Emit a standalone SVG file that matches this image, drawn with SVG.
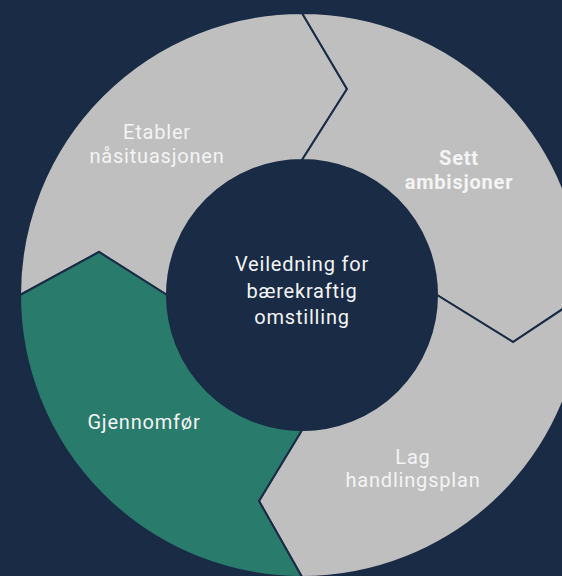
<svg xmlns="http://www.w3.org/2000/svg" width="562" height="576" viewBox="0 0 562 576">
  <style>
    .seg { stroke: #192b45; stroke-width: 2; stroke-linejoin: miter; }
    .grey { fill: #bfbfbf; }
    .green { fill: #297b6b; }
    .lbl { font-family: Roboto, "Liberation Sans", sans-serif; font-size: 20px; fill: #f4f4f4; text-anchor: middle; letter-spacing: 0.8px; }
    .bold { font-weight: bold; }
  </style>
  <rect x="0" y="0" width="562" height="576" fill="#192b45"/>
  <g id="etabler">
    <path class="seg grey" d="M20,295 A282,282 0 0 1 302,13 L347,89 L302,160 A135,135 0 0 0 167,295 L99,252 Z"/>
    <text class="lbl" x="157" y="139">Etabler</text>
    <text class="lbl" x="157" y="163">nåsituasjonen</text>
  </g>
  <g id="sett">
    <path class="seg grey" d="M302,13 A282,282 0 0 1 584,295 L513,342 L437,295 A135,135 0 0 0 302,160 L347,89 Z"/>
    <text class="lbl bold" x="459" y="165">Sett</text>
    <text class="lbl bold" x="459" y="189">ambisjoner</text>
  </g>
  <g id="lag">
    <path class="seg grey" d="M584,295 A282,282 0 0 1 302,577 L259,501 L302,430 A135,135 0 0 0 437,295 L513,342 Z"/>
    <text class="lbl" x="413" y="464">Lag</text>
    <text class="lbl" x="413" y="487">handlingsplan</text>
  </g>
  <g id="gjennomfor">
    <path class="seg green" d="M302,577 A282,282 0 0 1 20,295 L99,252 L167,295 A135,135 0 0 0 302,430 L259,501 Z"/>
    <text class="lbl" x="144" y="429">Gjennomfør</text>
  </g>
  <g id="center">
    <circle cx="302" cy="295.5" r="135" fill="#192b45"/>
    <text class="lbl" x="302" y="271">Veiledning for</text>
    <text class="lbl" x="302" y="298">bærekraftig</text>
    <text class="lbl" x="302" y="324">omstilling</text>
  </g>
  <g id="connectors"></g>
</svg>
